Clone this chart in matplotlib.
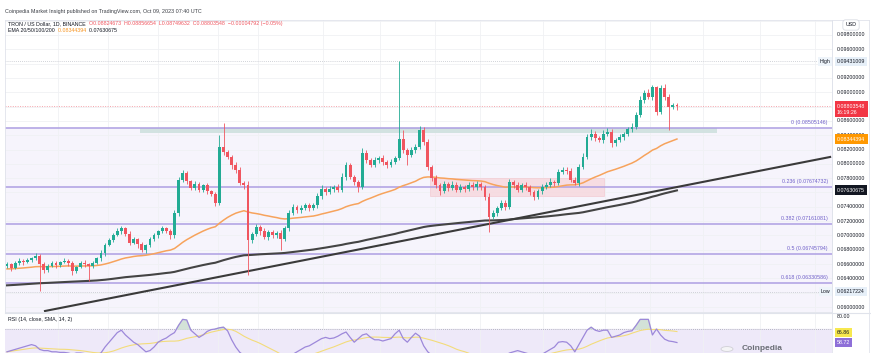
import matplotlib
matplotlib.use('Agg')
import matplotlib.pyplot as plt
import numpy as np
import pandas as pd
from matplotlib.patches import Rectangle, Circle
from matplotlib.lines import Line2D

# ---- data (TRX/USD daily) ----
first_open = 0.0657
closes = [
    0.0660, 0.0655, 0.0662, 0.0665, 0.0663, 0.0666, 0.0668, 0.0672, 0.0660, 0.0652,
    0.0658, 0.0661, 0.0659, 0.0663, 0.0665, 0.0661, 0.0650, 0.0656, 0.0662, 0.0660,
    0.0657, 0.0662, 0.0668, 0.0676, 0.0687, 0.0694, 0.0701, 0.0706, 0.0710, 0.0702,
    0.0690, 0.0695, 0.0688, 0.0680, 0.0686, 0.0695, 0.0700, 0.0706, 0.0710, 0.0706,
    0.0700, 0.0731, 0.0778, 0.0787, 0.0776, 0.0766, 0.0772, 0.0764, 0.0770, 0.0762,
    0.0758, 0.0745, 0.0824, 0.0816, 0.0810, 0.0798, 0.0791, 0.0773, 0.0770, 0.0694,
    0.0702, 0.0712, 0.0706, 0.0698, 0.0705, 0.0700, 0.0703, 0.0695, 0.0710, 0.0731,
    0.0740, 0.0735, 0.0738, 0.0742, 0.0738, 0.0742, 0.0755, 0.0765, 0.0760, 0.0765,
    0.0768, 0.0764, 0.0782, 0.0798, 0.0782, 0.0775, 0.0768, 0.0815, 0.0805, 0.0798,
    0.0805, 0.0808, 0.0802, 0.0798, 0.0803, 0.0808, 0.0835, 0.0819, 0.0812, 0.0819,
    0.0824, 0.0847, 0.0831, 0.0796, 0.0780, 0.0770, 0.0762, 0.0772, 0.0766, 0.0771,
    0.0764, 0.0768, 0.0765, 0.0771, 0.0767, 0.0772, 0.0768, 0.0754, 0.0726, 0.0731,
    0.0738, 0.0745, 0.0740, 0.0775, 0.0770, 0.0764, 0.0770, 0.0767, 0.0760, 0.0754,
    0.0762, 0.0768, 0.0771, 0.0775, 0.0773, 0.0789, 0.0792, 0.0790, 0.0778, 0.0773,
    0.0796, 0.0810, 0.0838, 0.0842, 0.0836, 0.0833, 0.0842, 0.0845, 0.0829, 0.0833,
    0.0838, 0.0842, 0.0848, 0.0852, 0.0868, 0.0889, 0.0899, 0.0893, 0.0907, 0.0872,
    0.0906, 0.0893, 0.0879, 0.08824673, 0.08803548,
]
# wick lengths beyond the body, in units of 0.0001
upper_wick = [
    3, 2, 3, 4, 2, 3, 2, 3, 2, 3,
    2, 3, 4, 2, 3, 2, 3, 2, 3, 4,
    2, 3, 2, 4, 3, 2, 3, 4, 3, 2,
    4, 3, 2, 3, 2, 3, 4, 2, 3, 2,
    3, 4, 3, 4, 3, 2, 4, 3, 2, 3,
    2, 3, 16, 33, 4, 3, 5, 4, 3, 6,
    3, 4, 3, 5, 3, 2, 3, 4, 3, 5,
    4, 3, 5, 3, 4, 3, 4, 5, 3, 4,
    3, 4, 5, 4, 3, 2, 3, 7, 5, 3,
    4, 3, 5, 3, 4, 3, 108, 12, 3, 4,
    4, 6, 5, 4, 3, 4, 3, 4, 3, 5,
    3, 4, 3, 4, 3, 4, 3, 3, 5, 4,
    3, 5, 4, 4, 3, 5, 3, 4, 3, 4,
    3, 4, 3, 5, 3, 4, 4, 3, 4, 3,
    4, 5, 4, 6, 4, 3, 5, 5, 4, 3,
    4, 3, 4, 5, 4, 6, 4, 5, 3, 2,
    4, 6, 4, 3, 3,
]
lower_wick = [
    3, 4, 2, 3, 4, 2, 3, 2, 38, 4,
    3, 2, 4, 3, 2, 4, 5, 3, 2, 4,
    20, 3, 2, 3, 4, 2, 3, 2, 4, 3,
    4, 2, 5, 3, 4, 2, 3, 4, 2, 3,
    5, 3, 4, 3, 4, 3, 2, 4, 3, 4,
    3, 4, 3, 4, 3, 5, 4, 3, 5, 49,
    4, 3, 5, 3, 4, 3, 4, 15, 3, 4,
    3, 4, 3, 2, 4, 3, 3, 4, 3, 2,
    4, 3, 3, 4, 3, 4, 7, 3, 4, 3,
    3, 4, 3, 4, 3, 3, 3, 4, 14, 3,
    4, 3, 4, 5, 4, 4, 5, 3, 4, 3,
    4, 3, 4, 3, 4, 3, 4, 4, 21, 3,
    4, 3, 4, 3, 4, 3, 4, 3, 4, 4,
    3, 4, 3, 3, 4, 3, 3, 4, 4, 3,
    4, 3, 3, 4, 4, 3, 4, 3, 5, 4,
    3, 4, 3, 4, 4, 3, 4, 3, 4, 4,
    3, 4, 32, 3, 5,
]
rsi = [
    51, 52, 53, 54, 55, 56, 57, 56, 53, 52,
    52, 51, 51, 50.5, 50.5, 50, 49, 50, 50, 49.5,
    49, 49, 48.5, 50, 55, 59, 63, 67, 69, 65,
    62, 59, 57, 54, 51, 52, 55, 59, 61, 62.5,
    65, 67, 73, 78, 77.5, 69, 66, 63, 65, 68,
    69.5, 70, 71, 71.5, 68.5, 61, 55, 50.5, 48, 45,
    44, 45, 44, 44, 46, 45.5, 46, 45, 47, 48,
    49, 51, 53, 55, 56, 58, 60, 62, 63, 62,
    62.5, 64, 66, 67.5, 63, 59, 62, 65, 66, 63,
    61, 61, 60, 61, 62, 66, 69, 62, 59, 63,
    66.5, 64, 56, 51, 48, 46, 46, 45, 45, 46,
    47, 46, 46, 46, 45, 45, 44, 42, 39, 42,
    45, 47, 48, 50, 51, 52, 51, 50, 49, 48,
    49, 49, 51, 53, 55, 59, 59.5, 59, 56, 51,
    57, 63, 69, 71.5, 69, 68, 69, 69, 63, 64,
    65, 67, 68, 68.5, 73, 78, 78, 78, 65, 70,
    65, 61.5, 60, 59.5, 58.72,
]
rsi_sma_last = 66.86
ema50_seed = 0.0653
ema200_seed = 0.0630
fib_ratios = ['0', '0.236', '0.382', '0.5', '0.618']
fib_prices = [0.08505146, 0.07674732, 0.07161081, 0.06745794, 0.06330586]
trend_x = [9.3, 201.5]
trend_y = [0.05945, 0.08096]
high_price = 0.09431009
low_price = 0.06217224
last_price = 0.08803548
ema50_last = 0.08344394
ema200_last = 0.07630675
price_ticks = [0.098, 0.096, 0.092, 0.090, 0.086, 0.084, 0.082, 0.080, 0.078,
               0.074, 0.072, 0.070, 0.068, 0.066, 0.064, 0.060]

W, H = 871, 353
plt.rcParams['font.family'] = ['Liberation Sans', 'DejaVu Sans']
fig = plt.figure(figsize=(W / 100, H / 100), dpi=100)
fig.patch.set_facecolor('white')


def fx(x):
    return x / W


def fy(y):
    return 1 - y / H


GREEN = '#22ab94'
RED = '#f0555f'
FIB = '#ad9fe2'
GRID = '#f0f1f4'

ax = fig.add_axes([fx(5), fy(312), fx(832) - fx(5), fy(20) - fy(312)])
rx = fig.add_axes([fx(5), fy(353), fx(832) - fx(5), fy(313) - fy(353)])

n = len(closes)
x = np.arange(n)
c = np.array(closes)
o = np.array([first_open] + closes[:-1])
top = np.maximum(o, c)
bot = np.minimum(o, c)
hi = top + np.array(upper_wick) * 1e-4
lo = bot - np.array(lower_wick) * 1e-4
up = c >= o
cols = np.where(up, GREEN, RED)

xmin, xmax = -0.49, 201.96
ymin, ymax = 0.05931, 0.10009
ax.set_xlim(xmin, xmax)
ax.set_ylim(ymin, ymax)

# background / grid
ax.axhspan(ymin, fib_prices[0], color='#f6f4fc', zorder=0)
for v in np.arange(0.060, 0.1, 0.002):
    ax.axhline(v, color=GRID, lw=0.6, zorder=0.5)
grid_px = [58, 108, 158, 218, 258, 323, 380, 435, 480, 543, 605, 650, 703, 760, 815]
grid_idx = [(p - 7) / 4.085 for p in grid_px]
for g in grid_idx:
    ax.axvline(g, color=GRID, lw=0.6, zorder=0.5)
    rx.axvline(g, color=GRID, lw=0.6, zorder=0.5)

# zones
ax.add_patch(Rectangle((32.6, 0.0843), 141.2, fib_prices[0] - 0.0843,
                       facecolor='#cfe0df', edgecolor='none', alpha=0.9, zorder=1))
ax.add_patch(Rectangle((103.5, 0.07551), 42.6, 0.07803 - 0.07551,
                       facecolor='#f7d6dc', edgecolor='#f2c4cc', lw=0.5, alpha=0.8, zorder=1))

# fib levels
for r, p in zip(fib_ratios, fib_prices):
    ax.axhline(p, color=FIB, lw=1.1, zorder=1.5)
    ax.text(0.995, p + 0.00042, f'{r} ({p:.8f})', transform=ax.get_yaxis_transform(),
            ha='right', va='bottom', fontsize=3.8, color='#6f5fc9', zorder=6)

# high / low / last price lines
ax.axhline(high_price, color='#c2c5cc', lw=0.6, ls=(0, (1, 1.5)), zorder=1)
ax.axhline(low_price, color='#c2c5cc', lw=0.6, ls=(0, (1, 1.5)), zorder=1)
ax.axhline(last_price, color='#f5a3aa', lw=0.7, ls=(0, (1, 1.5)), zorder=1)

# moving averages
ema50 = pd.Series([ema50_seed] + closes).ewm(span=45, adjust=False).mean().values[1:]
ema200 = pd.Series([ema200_seed] + closes).ewm(span=175, adjust=False).mean().values[1:]
ax.plot(x, ema200, color='#444444', lw=1.5, zorder=2)
ax.plot(trend_x, trend_y, color='#3a3a3a', lw=1.5, zorder=2)
ax.plot(x, ema50, color='#f7a35c', lw=1.1, zorder=2.5)

# candles
ax.vlines(x, lo, hi, colors=cols, lw=0.6, zorder=3)
ax.bar(x, np.maximum(top - bot, 0.00003), bottom=bot, width=0.7, color=cols, zorder=3.5)

ax.set_xticks([])
ax.set_yticks([])
for s in ax.spines.values():
    s.set_color('#e0e3eb')
    s.set_linewidth(0.6)

# RSI panel
rx.set_xlim(xmin, xmax)
rx.set_ylim(50, 83.33)
rx.axhspan(30, 70, color='#eee9f9', zorder=0)
rx.axhline(70, color='#a3a6ae', lw=0.6, ls=(0, (1, 1.5)), zorder=1)
r = np.array(rsi, dtype=float)
sma = pd.Series(r).rolling(14, min_periods=1).mean().values
rx.fill_between(x, 70, r, where=r > 70, interpolate=True, color='#d3e2d8', zorder=1)
rx.plot(x, sma, color='#f3dc7a', lw=0.8, zorder=2)
rx.plot(x, r, color='#9d88da', lw=0.9, zorder=3)
rx.set_xticks([])
rx.set_yticks([])
for s in rx.spines.values():
    s.set_visible(False)

# panel separators
fig.add_artist(Line2D([fx(5), fx(871)], [fy(312.5), fy(312.5)], color='#e0e3eb', lw=0.8))
fig.add_artist(Line2D([fx(832), fx(832)], [fy(20), fy(353)], color='#e0e3eb', lw=0.6))
fig.add_artist(Line2D([fx(832), fx(869)], [fy(20), fy(20)], color='#e0e3eb', lw=0.6))
fig.add_artist(Line2D([fx(869), fx(869)], [fy(20), fy(353)], color='#e0e3eb', lw=0.6))

# ---- texts ----
FS = 3.8
fig.text(fx(5), fy(12), 'Coinpedia Market Insight published on TradingView.com, Oct 09, 2023 07:40 UTC',
         fontsize=3.9, color='#3b3e45', va='center')
t1 = fig.text(fx(8), fy(24), 'TRON / US Dollar, 1D, BINANCE', fontsize=FS, color='#131722', va='center')
ax.annotate('  O0.08824673  H0.08856654  L0.08749632  C0.08803548  \u22120.00004792 (\u22120.05%)',
            xy=(1, 0.5), xycoords=t1, va='center', ha='left', fontsize=FS, color=RED,
            annotation_clip=False)
t2 = fig.text(fx(8), fy(31), 'EMA 20/50/100/200', fontsize=FS, color='#131722', va='center')
t3 = ax.annotate(f'  {ema50_last:.8f}', xy=(1, 0.5), xycoords=t2, va='center', ha='left',
                 fontsize=FS, color='#f7931e', annotation_clip=False)
ax.annotate(f'  {ema200_last:.8f}', xy=(1, 0.5), xycoords=t3, va='center', ha='left',
            fontsize=FS, color='#131722', annotation_clip=False)

t4 = fig.text(fx(8), fy(319), 'RSI (14, close, SMA, 14, 2)', fontsize=FS, color='#131722', va='center')
t5 = ax.annotate(f'  {rsi[-1]:.2f}', xy=(1, 0.5), xycoords=t4, va='center', ha='left',
                 fontsize=FS, color='#8c6fd6', annotation_clip=False)
t6 = ax.annotate(f'  {rsi_sma_last:.2f}', xy=(1, 0.5), xycoords=t5, va='center', ha='left',
                 fontsize=FS, color='#e8c93a', annotation_clip=False)
ax.annotate('  \u2205  \u2205', xy=(1, 0.5), xycoords=t6, va='center', ha='left',
            fontsize=FS, color='#131722', annotation_clip=False)

# price scale
ytr = ax.get_yaxis_transform()
XL = (837 - 5) / 827
fig.text(fx(851), fy(25), 'USD', fontsize=FS, color='#131722', ha='center', va='center',
         bbox=dict(boxstyle='round,pad=0.5', fc='white', ec='#d1d4dc', lw=0.5))
for v in price_ticks:
    ax.text(XL, v, f'{v:.8f}', transform=ytr, fontsize=FS, color='#131722',
            ha='left', va='center', clip_on=False, zorder=5)

ax.text(XL, high_price, f'{high_price:.8f}', transform=ytr, fontsize=FS, color='#131722',
        ha='left', va='center', clip_on=False, zorder=6,
        bbox=dict(boxstyle='square,pad=0.35', fc='#e6eff8', ec='none'))
ax.text(0.998, high_price, 'High', transform=ytr, fontsize=FS, color='#131722',
        ha='right', va='center', clip_on=False, zorder=6,
        bbox=dict(boxstyle='square,pad=0.35', fc='#eef4fa', ec='none'))
ax.text(XL, low_price, f'{low_price:.8f}', transform=ytr, fontsize=FS, color='#131722',
        ha='left', va='center', clip_on=False, zorder=6,
        bbox=dict(boxstyle='square,pad=0.35', fc='#e6eff8', ec='none'))
ax.text(0.998, low_price, 'Low', transform=ytr, fontsize=FS, color='#131722',
        ha='right', va='center', clip_on=False, zorder=6,
        bbox=dict(boxstyle='square,pad=0.35', fc='#eef4fa', ec='none'))
ax.text(XL, last_price - 0.0004, f'{last_price:.8f}\n16:19:26', transform=ytr, fontsize=FS,
        color='white', ha='left', va='center', clip_on=False, zorder=7, linespacing=1.3,
        bbox=dict(boxstyle='square,pad=0.45', fc='#f23645', ec='none'))
ax.text(XL, ema50_last, f'{ema50_last:.8f}', transform=ytr, fontsize=FS, color='white',
        ha='left', va='center', clip_on=False, zorder=7,
        bbox=dict(boxstyle='square,pad=0.45', fc='#ff9800', ec='none'))
ax.text(XL, ema200_last, f'{ema200_last:.8f}', transform=ytr, fontsize=FS, color='white',
        ha='left', va='center', clip_on=False, zorder=7,
        bbox=dict(boxstyle='square,pad=0.45', fc='#131722', ec='none'))

# RSI scale
rtr = rx.get_yaxis_transform()
rx.text(XL, 80, '80.00', transform=rtr, fontsize=FS, color='#131722', ha='left', va='center',
        clip_on=False)
rx.text(XL, rsi_sma_last, f'{rsi_sma_last:.2f}', transform=rtr, fontsize=FS, color='#131722',
        ha='left', va='center', clip_on=False, zorder=7,
        bbox=dict(boxstyle='square,pad=0.4', fc='#f7e84f', ec='none'))
rx.text(XL, rsi[-1], f'{rsi[-1]:.2f}', transform=rtr, fontsize=FS, color='white',
        ha='left', va='center', clip_on=False, zorder=7,
        bbox=dict(boxstyle='square,pad=0.4', fc='#8e6fd8', ec='none'))

# watermark at the bottom edge
fig.add_artist(Circle((fx(727), fy(349)), 6 / W, transform=fig.transFigure,
                      facecolor='#f4f4f6', edgecolor='#d0d0d6', lw=0.6))
fig.text(fx(742), fy(348), 'Coinpedia', fontsize=6, color='#6b6e76', ha='left', va='center',
         fontweight='bold')

fig.savefig('out.png', dpi=100)
